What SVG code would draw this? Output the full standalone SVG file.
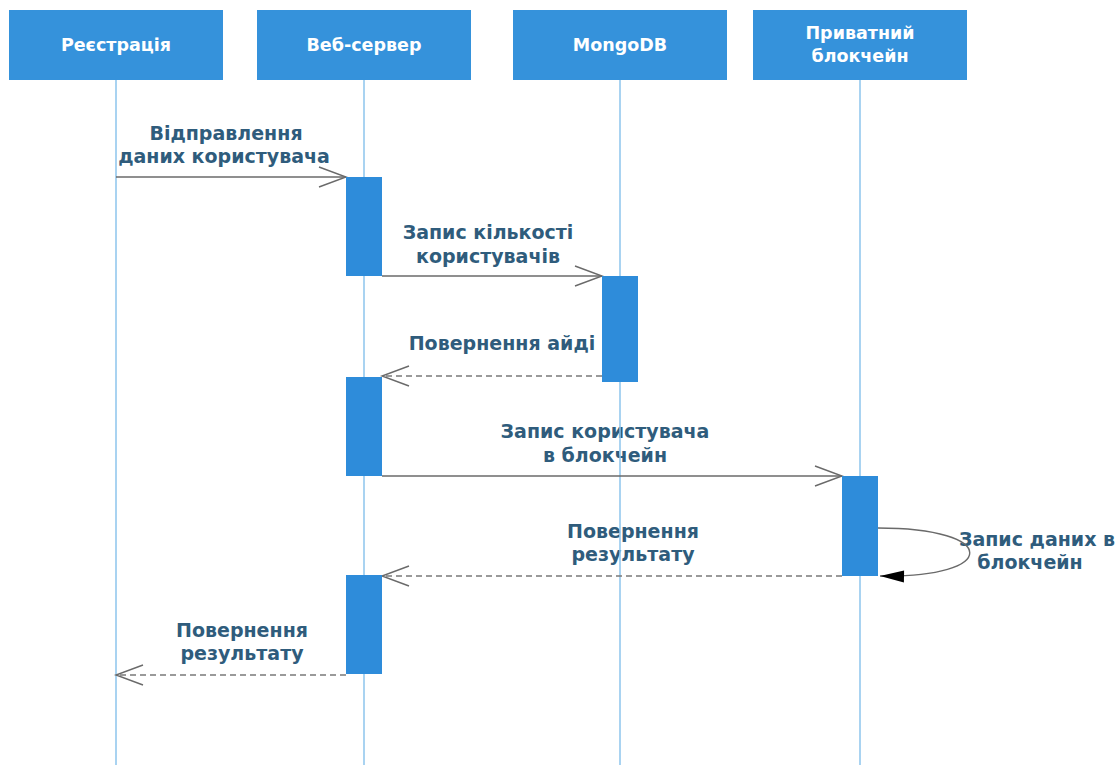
<svg xmlns="http://www.w3.org/2000/svg" width="1116" height="765" viewBox="0 0 1116 765">
<style>
.hdr{fill:#3592db}
.hdr-t{font-family:"DejaVu Sans",sans-serif;font-size:17.5px;font-weight:bold;fill:#ffffff;text-anchor:middle}
.life{stroke:#8cc4ec;stroke-width:1.5;fill:none}
.bar{fill:#2e8cda}
.msg{stroke:#6a6a6a;stroke-width:1.4;fill:none}
.ret{stroke:#7a7a7a;stroke-width:1.4;fill:none;stroke-dasharray:6 4}
.lbl{font-family:"DejaVu Sans",sans-serif;font-size:19px;font-weight:bold;fill:#2f5c7c;text-anchor:middle}
</style>
<defs>
<marker id="open" markerUnits="userSpaceOnUse" markerWidth="40" markerHeight="30" refX="0" refY="0" viewBox="-30 -15 32 30" orient="auto">
<path d="M-27,-10 L0,0 L-27,10" fill="none" stroke="#6a6a6a" stroke-width="1.4"/>
</marker>
<marker id="solidhead" markerUnits="userSpaceOnUse" markerWidth="40" markerHeight="30" refX="0" refY="0" viewBox="-30 -15 32 30" orient="auto">
<path d="M-24,-6 L0,0 L-24,6 Z" fill="#000000"/>
</marker>
</defs>
<rect width="1116" height="765" fill="#ffffff"/>

<g id="labels">
<text class="lbl" x="226" y="140">Відправлення</text>
<text class="lbl" x="224" y="163">даних користувача</text>
<text class="lbl" x="488" y="239">Запис кількості</text>
<text class="lbl" x="488" y="263">користувачів</text>
<text class="lbl" x="502" y="350">Повернення айді</text>
<text class="lbl" x="605" y="438">Запис користувача</text>
<text class="lbl" x="605" y="462">в блокчейн</text>
<text class="lbl" x="633" y="538">Повернення</text>
<text class="lbl" x="633" y="561">результату</text>
<text class="lbl" x="1037" y="546">Запис даних в</text>
<text class="lbl" x="1030" y="569">блокчейн</text>
<text class="lbl" x="242" y="637">Повернення</text>
<text class="lbl" x="242" y="660">результату</text>
</g>

<g id="node-registration">
<rect class="hdr" x="9" y="10" width="214" height="70"/>
<text class="hdr-t" x="116" y="51">Реєстрація</text>
<line class="life" x1="116" y1="80" x2="116" y2="765"/>
</g>
<g id="node-webserver">
<rect class="hdr" x="257" y="10" width="214" height="70"/>
<text class="hdr-t" x="364" y="51">Веб-сервер</text>
<line class="life" x1="364" y1="80" x2="364" y2="765"/>
</g>
<g id="node-mongodb">
<rect class="hdr" x="513" y="10" width="214" height="70"/>
<text class="hdr-t" x="620" y="51">MongoDB</text>
<line class="life" x1="620" y1="80" x2="620" y2="765"/>
</g>
<g id="node-blockchain">
<rect class="hdr" x="753" y="10" width="214" height="70"/>
<text class="hdr-t" x="860" y="39">Приватний</text>
<text class="hdr-t" x="860" y="62">блокчейн</text>
<line class="life" x1="860" y1="80" x2="860" y2="765"/>
</g>

<g id="connectors">
<line class="msg" x1="116" y1="177" x2="346" y2="177" marker-end="url(#open)"/>
<line class="msg" x1="382" y1="276" x2="602" y2="276" marker-end="url(#open)"/>
<line class="ret" x1="602" y1="376" x2="382" y2="376" marker-end="url(#open)"/>
<line class="msg" x1="382" y1="476" x2="842" y2="476" marker-end="url(#open)"/>
<line class="ret" x1="842" y1="576" x2="382" y2="576" marker-end="url(#open)"/>
<path class="msg" d="M878,528 C1000,528 1000,578 880,576" marker-end="url(#solidhead)"/>
<line class="ret" x1="346" y1="675" x2="116" y2="675" marker-end="url(#open)"/>
</g>

<g id="activations">
<rect class="bar" x="346" y="177" width="36" height="99"/>
<rect class="bar" x="602" y="276" width="36" height="106"/>
<rect class="bar" x="346" y="377" width="36" height="99"/>
<rect class="bar" x="842" y="476" width="36" height="100"/>
<rect class="bar" x="346" y="575" width="36" height="99"/>
</g>
</svg>
